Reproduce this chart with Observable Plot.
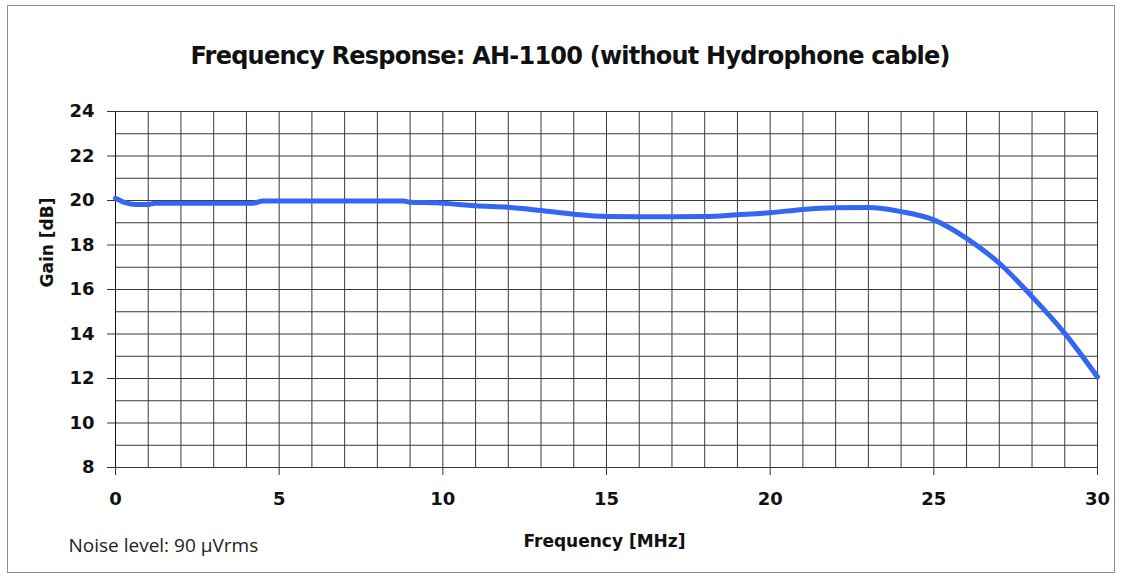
<!DOCTYPE html>
<html>
<head>
<meta charset="utf-8">
<script src="https://cdn.jsdelivr.net/npm/d3@7"></script>
<script src="https://cdn.jsdelivr.net/npm/@observablehq/plot@0.6"></script>
<style>
  html, body { margin: 0; padding: 0; background: #fff; }
  #wrap { position: relative; width: 1122px; height: 579px; }
  #border { position: absolute; left: 7px; top: 5px; width: 1106px; height: 566px; border: 1px solid #8a8a8a; pointer-events: none; }
  svg { position: absolute; left: 0; top: 0; }
</style>
</head>
<body>
<div id="wrap"><div id="border"></div></div>
<script>
const titleText = "Frequency Response: AH-1100 (without Hydrophone cable)";
const xLabel = "Frequency [MHz]";
const yLabel = "Gain [dB]";
const noteText = "Noise level: 90 \u00b5Vrms";

const xTicks = [0, 5, 10, 15, 20, 25, 30];
const yTicks = [8, 10, 12, 14, 16, 18, 20, 22, 24];
const xGrid = d3.range(0, 31, 1);
const yGrid = d3.range(8, 25, 1);

const freq = [0, 0.3, 0.6, 1, 1.2, 4.2, 4.5, 8.8, 9.0, 9.8, 10.5, 11, 12, 13, 14, 15, 16, 17, 18, 19, 20, 21, 22, 23, 24, 25, 26, 27, 28, 29, 30];
const gain = [20.1, 19.9, 19.82, 19.82, 19.88, 19.88, 19.98, 19.98, 19.92, 19.9, 19.82, 19.76, 19.7, 19.55, 19.38, 19.28, 19.27, 19.27, 19.28, 19.36, 19.45, 19.6, 19.67, 19.68, 19.5, 19.13, 18.3, 17.18, 15.68, 14.03, 12.07];

const data = freq.map((f, i) => ({f, g: gain[i]}));

const boldFont = "'DejaVu Sans', sans-serif";

const chart = Plot.plot({
  width: 1122,
  height: 579,
  marginLeft: 115,
  marginRight: 25,
  marginTop: 111,
  marginBottom: 112,
  style: { fontFamily: boldFont, fontSize: "18px", fontWeight: "bold", color: "#111", background: "transparent" },
  x: { domain: [0, 30], label: null },
  y: { domain: [8, 24], label: null },
  marks: [
    Plot.gridX(xGrid, { stroke: "#3a3a3a", strokeOpacity: 1, strokeWidth: 1 }),
    Plot.gridY(yGrid, { stroke: "#3a3a3a", strokeOpacity: 1, strokeWidth: 1 }),
    Plot.axisX(xTicks, { tickSize: 8, tickPadding: 17, label: null, stroke: "#333" }),
    Plot.axisY(yTicks, { tickSize: 8, tickPadding: 13, label: null, stroke: "#333" }),
    Plot.ruleX([0], { stroke: "#111" }),
    Plot.line(data, { x: "f", y: "g", stroke: "#3366f2", strokeWidth: 5, curve: "monotone-x" }),
    Plot.text([titleText], { text: d => d, frameAnchor: "top", dx: -36, dy: -48, fontSize: 24, fontWeight: "bold", lineAnchor: "bottom", fill: "#111", className: "ttl" }),
    Plot.text([xLabel], { text: d => d, frameAnchor: "bottom", dx: -2, dy: 79, fontSize: 17, fontWeight: "bold", lineAnchor: "bottom", fill: "#111" }),
    Plot.text([yLabel], { text: d => d, frameAnchor: "left", dx: -63, dy: -2, rotate: -90, fontSize: 17, fontWeight: "bold", lineAnchor: "bottom", fill: "#111" }),
    Plot.text([noteText], { text: d => d, frameAnchor: "bottom-left", dx: -47, dy: 84, textAnchor: "start", lineAnchor: "bottom", fontSize: 19, fontWeight: "normal", fontFamily: "'Open Sans', sans-serif", fill: "#222" })
  ]
});
document.getElementById("wrap").appendChild(chart);
const tt = chart.querySelector(".ttl text");
if (tt) { tt.setAttribute("textLength", "760"); tt.setAttribute("lengthAdjust", "spacing"); }
</script>
</body>
</html>
